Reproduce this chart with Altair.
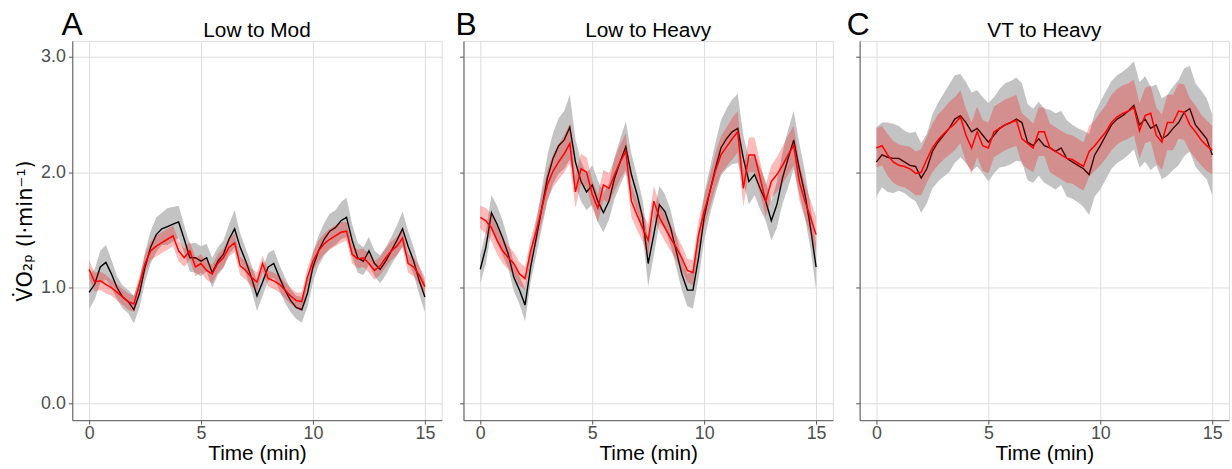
import altair as alt
import pandas as pd

TIME = [round(i * 0.25, 2) for i in range(61)]
TITLES = ["Low to Mod", "Low to Heavy", "VT to Heavy"]
LETTERS = ["A", "B", "C"]
X_TICKS = [0, 5, 10, 15]
Y_TICKS = [0.0, 1.0, 2.0, 3.0]

# Panel A - Low to Mod
A_BLACK = [0.96, 1.03, 1.18, 1.22, 1.12, 1.00, 0.92, 0.88, 0.81, 0.95, 1.18, 1.35, 1.46, 1.51, 1.53, 1.55,
           1.57, 1.42, 1.26, 1.26, 1.23, 1.26, 1.13, 1.23, 1.29, 1.42, 1.51, 1.35, 1.23, 1.09, 0.93, 1.05,
           1.18, 1.21, 1.09, 0.98, 0.89, 0.83, 0.81, 0.95, 1.18, 1.32, 1.42, 1.49, 1.52, 1.58, 1.61, 1.41,
           1.26, 1.23, 1.32, 1.21, 1.16, 1.23, 1.32, 1.41, 1.51, 1.36, 1.23, 1.06, 0.92]
A_RED = [1.16, 1.05, 1.06, 1.03, 1.00, 0.96, 0.92, 0.88, 0.86, 1.03, 1.21, 1.32, 1.36, 1.39, 1.42, 1.45,
         1.32, 1.26, 1.32, 1.18, 1.21, 1.15, 1.12, 1.21, 1.26, 1.35, 1.39, 1.19, 1.15, 1.09, 1.05, 1.21,
         1.08, 1.06, 1.03, 0.98, 0.93, 0.89, 0.88, 1.09, 1.23, 1.32, 1.38, 1.42, 1.45, 1.48, 1.49, 1.29,
         1.25, 1.26, 1.21, 1.15, 1.19, 1.26, 1.32, 1.36, 1.43, 1.21, 1.18, 1.11, 1.01]
A_GRAY_HW = [0.15, 0.13, 0.14, 0.15, 0.12, 0.10, 0.10, 0.10, 0.12, 0.12, 0.13, 0.14, 0.15, 0.14, 0.16, 0.15,
             0.14, 0.12, 0.12, 0.13, 0.13, 0.12, 0.13, 0.12, 0.12, 0.13, 0.16, 0.12, 0.11, 0.11, 0.13, 0.12,
             0.12, 0.12, 0.11, 0.11, 0.10, 0.10, 0.11, 0.12, 0.13, 0.13, 0.14, 0.15, 0.15, 0.16, 0.17, 0.14,
             0.13, 0.12, 0.12, 0.11, 0.12, 0.12, 0.12, 0.13, 0.15, 0.13, 0.12, 0.12, 0.13]
A_PINK_HW = [0.08, 0.08, 0.08, 0.08, 0.07, 0.07, 0.07, 0.07, 0.07, 0.07, 0.08, 0.08, 0.09, 0.09, 0.09, 0.09,
             0.09, 0.08, 0.08, 0.08, 0.08, 0.08, 0.08, 0.08, 0.08, 0.08, 0.08, 0.08, 0.08, 0.08, 0.08, 0.07,
             0.07, 0.07, 0.07, 0.07, 0.07, 0.07, 0.08, 0.08, 0.08, 0.09, 0.09, 0.09, 0.09, 0.09, 0.08, 0.08,
             0.08, 0.08, 0.08, 0.08, 0.08, 0.08, 0.08, 0.08, 0.08, 0.08, 0.08, 0.08, 0.08]

# Panel B - Low to Heavy
B_BLACK = [1.16, 1.35, 1.65, 1.55, 1.43, 1.29, 1.09, 0.98, 0.85, 1.18, 1.43, 1.69, 1.95, 2.12, 2.23, 2.28,
           2.39, 2.09, 1.92, 1.83, 1.89, 1.75, 1.65, 1.75, 1.95, 2.09, 2.22, 1.98, 1.81, 1.61, 1.21, 1.46,
           1.72, 1.66, 1.52, 1.32, 1.12, 0.98, 0.98, 1.26, 1.61, 1.83, 2.03, 2.21, 2.29, 2.35, 2.38, 2.12,
           1.92, 1.98, 1.86, 1.75, 1.58, 1.72, 1.95, 2.12, 2.28, 2.03, 1.81, 1.52, 1.18]
B_RED = [1.61, 1.58, 1.52, 1.41, 1.32, 1.26, 1.21, 1.12, 1.08, 1.32, 1.49, 1.69, 1.89, 2.01, 2.09, 2.16,
         2.25, 1.83, 2.03, 2.00, 1.81, 1.69, 1.89, 1.86, 1.98, 2.09, 2.18, 1.75, 1.63, 1.52, 1.41, 1.75,
         1.61, 1.52, 1.43, 1.35, 1.26, 1.15, 1.13, 1.46, 1.66, 1.83, 2.01, 2.15, 2.22, 2.29, 2.35, 1.86,
         2.15, 2.15, 1.95, 1.75, 1.92, 1.98, 2.06, 2.15, 2.23, 1.92, 1.75, 1.61, 1.46]
B_GRAY_HW = [0.12, 0.14, 0.15, 0.16, 0.15, 0.12, 0.12, 0.12, 0.14, 0.13, 0.15, 0.17, 0.20, 0.22, 0.24, 0.25,
             0.28, 0.20, 0.17, 0.16, 0.17, 0.18, 0.17, 0.16, 0.18, 0.20, 0.22, 0.18, 0.16, 0.15, 0.20, 0.18,
             0.16, 0.15, 0.15, 0.14, 0.14, 0.14, 0.16, 0.18, 0.20, 0.20, 0.22, 0.24, 0.26, 0.28, 0.30, 0.20,
             0.20, 0.18, 0.18, 0.17, 0.17, 0.20, 0.22, 0.25, 0.25, 0.22, 0.20, 0.18, 0.20]
B_PINK_HW = [0.10, 0.11, 0.12, 0.12, 0.11, 0.10, 0.10, 0.10, 0.10, 0.10, 0.11, 0.12, 0.13, 0.14, 0.15, 0.16,
             0.17, 0.14, 0.13, 0.13, 0.12, 0.12, 0.13, 0.13, 0.14, 0.15, 0.16, 0.14, 0.13, 0.12, 0.14, 0.13,
             0.12, 0.12, 0.11, 0.11, 0.11, 0.10, 0.11, 0.12, 0.13, 0.14, 0.15, 0.16, 0.17, 0.18, 0.18, 0.16,
             0.15, 0.15, 0.14, 0.14, 0.14, 0.15, 0.16, 0.17, 0.17, 0.16, 0.15, 0.15, 0.15]

# Panel C - VT to Heavy
C_BLACK = [2.09, 2.15, 2.13, 2.12, 2.12, 2.09, 2.06, 2.05, 1.95, 2.03, 2.18, 2.26, 2.32, 2.38, 2.46, 2.49,
           2.43, 2.35, 2.38, 2.32, 2.26, 2.32, 2.38, 2.41, 2.43, 2.46, 2.43, 2.26, 2.23, 2.29, 2.23, 2.21,
           2.18, 2.21, 2.12, 2.09, 2.06, 2.03, 1.98, 2.15, 2.23, 2.32, 2.41, 2.46, 2.49, 2.53, 2.58, 2.41,
           2.46, 2.38, 2.41, 2.29, 2.32, 2.38, 2.43, 2.52, 2.55, 2.41, 2.35, 2.29, 2.15]
C_RED = [2.21, 2.23, 2.15, 2.09, 2.06, 2.05, 2.03, 1.99, 2.00, 2.11, 2.21, 2.28, 2.33, 2.38, 2.42, 2.48,
         2.32, 2.21, 2.35, 2.23, 2.21, 2.35, 2.38, 2.41, 2.43, 2.45, 2.29, 2.25, 2.21, 2.35, 2.35, 2.21,
         2.18, 2.15, 2.12, 2.11, 2.08, 2.05, 2.18, 2.23, 2.29, 2.35, 2.43, 2.48, 2.51, 2.53, 2.56, 2.36,
         2.49, 2.51, 2.32, 2.26, 2.43, 2.43, 2.53, 2.52, 2.41, 2.35, 2.28, 2.23, 2.19]
C_GRAY_HW = [0.30, 0.28, 0.30, 0.30, 0.28, 0.27, 0.28, 0.30, 0.30, 0.30, 0.32, 0.34, 0.36, 0.38, 0.38, 0.36,
             0.35, 0.34, 0.33, 0.33, 0.34, 0.33, 0.34, 0.36, 0.36, 0.36, 0.34, 0.33, 0.32, 0.32, 0.32, 0.33,
             0.33, 0.32, 0.33, 0.32, 0.32, 0.33, 0.35, 0.36, 0.38, 0.38, 0.38, 0.38, 0.38, 0.38, 0.38, 0.37,
             0.37, 0.36, 0.35, 0.35, 0.35, 0.36, 0.37, 0.38, 0.37, 0.36, 0.36, 0.35, 0.35]
C_PINK_HW = [0.17, 0.17, 0.18, 0.18, 0.18, 0.18, 0.19, 0.19, 0.20, 0.20, 0.21, 0.22, 0.22, 0.23, 0.23, 0.23,
             0.23, 0.22, 0.22, 0.22, 0.22, 0.22, 0.22, 0.22, 0.22, 0.22, 0.22, 0.22, 0.21, 0.21, 0.21, 0.21,
             0.21, 0.21, 0.21, 0.21, 0.21, 0.21, 0.22, 0.22, 0.23, 0.23, 0.24, 0.24, 0.24, 0.24, 0.24, 0.24,
             0.24, 0.24, 0.24, 0.24, 0.24, 0.24, 0.24, 0.24, 0.23, 0.23, 0.22, 0.22, 0.21]

FONT = "Liberation Sans"
Y_TITLE = "V\u0307O\u2082\u209a (l\u00b7min\u207b\u00b9)"
LETTER_X = [-11, -8, -13]
PANEL_W = 373
PANEL_H = 383

XSCALE = alt.Scale(domain=[-0.75, 15.75], nice=False, zero=False)
YSCALE = alt.Scale(domain=[-0.146, 3.137], nice=False, zero=False)


def panel(idx, black, red, gray_hw, pink_hw):
    df = pd.DataFrame({"t": TIME, "black": black, "red": red})
    df["g_lo"] = [b - h for b, h in zip(black, gray_hw)]
    df["g_hi"] = [b + h for b, h in zip(black, gray_hw)]
    df["p_lo"] = [r - h for r, h in zip(red, pink_hw)]
    df["p_hi"] = [r + h for r, h in zip(red, pink_hw)]

    xaxis = alt.Axis(values=X_TICKS, title="Time (min)", labelFontSize=18, titleFontSize=21,
                     labelColor="#4d4d4d", titleColor="black", labelFont=FONT, titleFont=FONT,
                     titleFontWeight="normal", tickColor="#555", domainColor="#555", tickSize=4,
                     labelPadding=1, titlePadding=0, grid=True)
    if idx == 0:
        yaxis = alt.Axis(values=Y_TICKS, format=".1f", title=Y_TITLE, labelFontSize=18, titleFontSize=21,
                         labelColor="#4d4d4d", titleColor="black", labelFont=FONT, titleFont="DejaVu Sans",
                         titleFontWeight="normal", tickColor="#555", domainColor="#555", tickSize=4,
                         labelPadding=3, titlePadding=5, grid=True)
    else:
        yaxis = alt.Axis(values=Y_TICKS, labels=False, title=None, tickColor="#555", domainColor="#555",
                         tickSize=4, grid=True)

    x = alt.X("t:Q", scale=XSCALE, axis=xaxis)
    base = alt.Chart(df)
    gray = base.mark_area(color="#bdbdbd", opacity=0.9).encode(
        x=x, y=alt.Y("g_lo:Q", scale=YSCALE, axis=yaxis), y2="g_hi:Q")
    black_line = base.mark_line(color="black", strokeWidth=1.4).encode(
        x=x, y=alt.Y("black:Q", scale=YSCALE, axis=yaxis))
    pink = base.mark_area(color="#ff0000", opacity=0.27).encode(
        x=x, y=alt.Y("p_lo:Q", scale=YSCALE, axis=yaxis), y2="p_hi:Q")
    red_line = base.mark_line(color="#ff0000", strokeWidth=1.5).encode(
        x=x, y=alt.Y("red:Q", scale=YSCALE, axis=yaxis))
    labels = pd.DataFrame({"lab": [LETTERS[idx]], "title": [TITLES[idx]]})
    letter = alt.Chart(labels).mark_text(
        fontSize=32, font=FONT, align="left", baseline="alphabetic", color="black").encode(
        text="lab:N", x=alt.value(LETTER_X[idx]), y=alt.value(-6))
    title = alt.Chart(labels).mark_text(
        fontSize=21, font=FONT, align="center", baseline="alphabetic", color="black").encode(
        text="title:N", x=alt.value(PANEL_W / 2), y=alt.value(-4))
    return alt.layer(gray, black_line, pink, red_line, letter, title).properties(
        width=PANEL_W, height=PANEL_H)


chart = alt.hconcat(
    panel(0, A_BLACK, A_RED, A_GRAY_HW, A_PINK_HW),
    panel(1, B_BLACK, B_RED, B_GRAY_HW, B_PINK_HW),
    panel(2, C_BLACK, C_RED, C_GRAY_HW, C_PINK_HW),
    spacing=12,
).properties(
    padding={"left": 14, "top": 6, "right": 2, "bottom": 0}
).configure_view(stroke=None).configure_axis(
    gridColor="#ebebeb", gridWidth=1
).configure(background="white")

chart.save("out.html", embed_options={"renderer": "svg", "actions": False})
